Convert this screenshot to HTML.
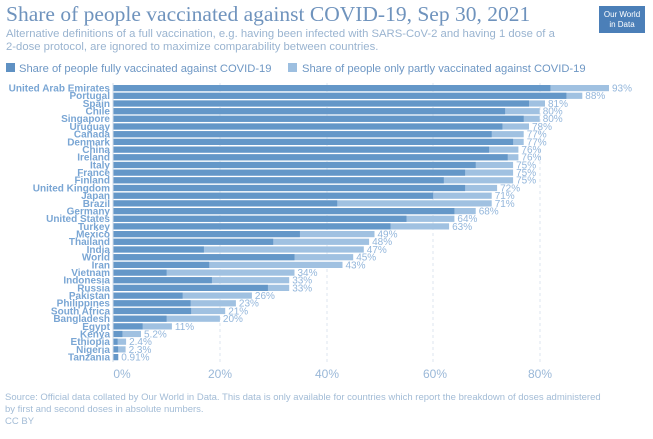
<!DOCTYPE html>
<html><head><meta charset="utf-8"><style>
body{margin:0;background:#fff;width:653px;height:434px;overflow:hidden}
</style></head><body>
<svg width="653" height="434" xmlns="http://www.w3.org/2000/svg" font-family="Liberation Sans, sans-serif">
<text x="6" y="21" font-family="Liberation Serif, serif" font-size="21.5" fill="#6f93bd">Share of people vaccinated against COVID-19, Sep 30, 2021</text>
<text x="6" y="37" font-size="11.3" fill="#9ab4d0">Alternative definitions of a full vaccination, e.g. having been infected with SARS-CoV-2 and having 1 dose of a</text>
<text x="6" y="50" font-size="11.3" fill="#9ab4d0">2-dose protocol, are ignored to maximize comparability between countries.</text>
<rect x="599" y="6" width="46" height="27" fill="#4b7fb8"/>
<text x="622" y="17" font-size="8" fill="#fff" text-anchor="middle">Our World</text>
<text x="622" y="27" font-size="8" fill="#fff" text-anchor="middle">in Data</text>
<rect x="6" y="63" width="9" height="9" fill="#5f91c3"/>
<text x="19" y="72" font-size="11.2" fill="#6e97c4">Share of people fully vaccinated against COVID-19</text>
<rect x="288" y="63" width="9" height="9" fill="#9dbfe0"/>
<text x="302" y="72" font-size="11.2" fill="#6e97c4">Share of people only partly vaccinated against COVID-19</text>
<g stroke="#dde6ef" stroke-dasharray="3,3" stroke-width="1">
<line x1="220" y1="83" x2="220" y2="362"/><line x1="327" y1="83" x2="327" y2="362"/><line x1="433" y1="83" x2="433" y2="362"/><line x1="540" y1="83" x2="540" y2="362"/>
</g>
<g fill="#a0c1e1">
<rect x="113.3" y="85.0" width="495.7" height="6.2"/>
<rect x="113.3" y="92.7" width="469.0" height="6.2"/>
<rect x="113.3" y="100.4" width="431.7" height="6.2"/>
<rect x="113.3" y="108.1" width="426.4" height="6.2"/>
<rect x="113.3" y="115.7" width="426.4" height="6.2"/>
<rect x="113.3" y="123.4" width="415.7" height="6.2"/>
<rect x="113.3" y="131.1" width="410.4" height="6.2"/>
<rect x="113.3" y="138.8" width="410.4" height="6.2"/>
<rect x="113.3" y="146.5" width="405.1" height="6.2"/>
<rect x="113.3" y="154.2" width="405.1" height="6.2"/>
<rect x="113.3" y="161.9" width="399.8" height="6.2"/>
<rect x="113.3" y="169.5" width="399.8" height="6.2"/>
<rect x="113.3" y="177.2" width="399.8" height="6.2"/>
<rect x="113.3" y="184.9" width="383.8" height="6.2"/>
<rect x="113.3" y="192.6" width="378.4" height="6.2"/>
<rect x="113.3" y="200.3" width="378.4" height="6.2"/>
<rect x="113.3" y="208.0" width="362.4" height="6.2"/>
<rect x="113.3" y="215.7" width="341.1" height="6.2"/>
<rect x="113.3" y="223.3" width="335.8" height="6.2"/>
<rect x="113.3" y="231.0" width="261.2" height="6.2"/>
<rect x="113.3" y="238.7" width="255.8" height="6.2"/>
<rect x="113.3" y="246.4" width="250.5" height="6.2"/>
<rect x="113.3" y="254.1" width="239.9" height="6.2"/>
<rect x="113.3" y="261.8" width="229.2" height="6.2"/>
<rect x="113.3" y="269.5" width="181.2" height="6.2"/>
<rect x="113.3" y="277.1" width="175.9" height="6.2"/>
<rect x="113.3" y="284.8" width="175.9" height="6.2"/>
<rect x="113.3" y="292.5" width="138.6" height="6.2"/>
<rect x="113.3" y="300.2" width="122.6" height="6.2"/>
<rect x="113.3" y="307.9" width="111.9" height="6.2"/>
<rect x="113.3" y="315.6" width="106.6" height="6.2"/>
<rect x="113.3" y="323.3" width="58.6" height="6.2"/>
<rect x="113.3" y="330.9" width="27.7" height="6.2"/>
<rect x="113.3" y="338.6" width="12.8" height="6.2"/>
<rect x="113.3" y="346.3" width="12.3" height="6.2"/>
<rect x="113.3" y="354.0" width="4.9" height="6.2"/>
</g>
<g fill="#6497c8">
<rect x="113.3" y="85.0" width="437.1" height="6.2"/>
<rect x="113.3" y="92.7" width="453.1" height="6.2"/>
<rect x="113.3" y="100.4" width="415.7" height="6.2"/>
<rect x="113.3" y="108.1" width="391.8" height="6.2"/>
<rect x="113.3" y="115.7" width="410.4" height="6.2"/>
<rect x="113.3" y="123.4" width="389.1" height="6.2"/>
<rect x="113.3" y="131.1" width="378.4" height="6.2"/>
<rect x="113.3" y="138.8" width="399.8" height="6.2"/>
<rect x="113.3" y="146.5" width="375.8" height="6.2"/>
<rect x="113.3" y="154.2" width="394.4" height="6.2"/>
<rect x="113.3" y="161.9" width="362.4" height="6.2"/>
<rect x="113.3" y="169.5" width="351.8" height="6.2"/>
<rect x="113.3" y="177.2" width="330.5" height="6.2"/>
<rect x="113.3" y="184.9" width="351.8" height="6.2"/>
<rect x="113.3" y="192.6" width="319.8" height="6.2"/>
<rect x="113.3" y="200.3" width="223.9" height="6.2"/>
<rect x="113.3" y="208.0" width="341.1" height="6.2"/>
<rect x="113.3" y="215.7" width="293.2" height="6.2"/>
<rect x="113.3" y="223.3" width="277.2" height="6.2"/>
<rect x="113.3" y="231.0" width="186.6" height="6.2"/>
<rect x="113.3" y="238.7" width="159.9" height="6.2"/>
<rect x="113.3" y="246.4" width="90.6" height="6.2"/>
<rect x="113.3" y="254.1" width="181.2" height="6.2"/>
<rect x="113.3" y="261.8" width="95.9" height="6.2"/>
<rect x="113.3" y="269.5" width="53.3" height="6.2"/>
<rect x="113.3" y="277.1" width="98.6" height="6.2"/>
<rect x="113.3" y="284.8" width="154.6" height="6.2"/>
<rect x="113.3" y="292.5" width="69.3" height="6.2"/>
<rect x="113.3" y="300.2" width="77.3" height="6.2"/>
<rect x="113.3" y="307.9" width="77.8" height="6.2"/>
<rect x="113.3" y="315.6" width="53.3" height="6.2"/>
<rect x="113.3" y="323.3" width="29.3" height="6.2"/>
<rect x="113.3" y="330.9" width="9.1" height="6.2"/>
<rect x="113.3" y="338.6" width="4.3" height="6.2"/>
<rect x="113.3" y="346.3" width="4.8" height="6.2"/>
<rect x="113.3" y="354.0" width="4.9" height="6.2"/>
</g>
<g font-size="10" font-weight="bold" fill="#7aa6d4" text-anchor="end">
<text x="110" y="91.5">United Arab Emirates</text>
<text x="110" y="99.2">Portugal</text>
<text x="110" y="106.9">Spain</text>
<text x="110" y="114.6">Chile</text>
<text x="110" y="122.2">Singapore</text>
<text x="110" y="129.9">Uruguay</text>
<text x="110" y="137.6">Canada</text>
<text x="110" y="145.3">Denmark</text>
<text x="110" y="153.0">China</text>
<text x="110" y="160.7">Ireland</text>
<text x="110" y="168.4">Italy</text>
<text x="110" y="176.0">France</text>
<text x="110" y="183.7">Finland</text>
<text x="110" y="191.4">United Kingdom</text>
<text x="110" y="199.1">Japan</text>
<text x="110" y="206.8">Brazil</text>
<text x="110" y="214.5">Germany</text>
<text x="110" y="222.2">United States</text>
<text x="110" y="229.8">Turkey</text>
<text x="110" y="237.5">Mexico</text>
<text x="110" y="245.2">Thailand</text>
<text x="110" y="252.9">India</text>
<text x="110" y="260.6">World</text>
<text x="110" y="268.3">Iran</text>
<text x="110" y="276.0">Vietnam</text>
<text x="110" y="283.6">Indonesia</text>
<text x="110" y="291.3">Russia</text>
<text x="110" y="299.0">Pakistan</text>
<text x="110" y="306.7">Philippines</text>
<text x="110" y="314.4">South Africa</text>
<text x="110" y="322.1">Bangladesh</text>
<text x="110" y="329.8">Egypt</text>
<text x="110" y="337.4">Kenya</text>
<text x="110" y="345.1">Ethiopia</text>
<text x="110" y="352.8">Nigeria</text>
<text x="110" y="360.5">Tanzania</text>
</g>
<g font-size="10" fill="#93b6db">
<text x="612" y="91.5">93%</text>
<text x="585.3" y="99.2">88%</text>
<text x="548" y="106.9">81%</text>
<text x="542.7" y="114.6">80%</text>
<text x="542.7" y="122.2">80%</text>
<text x="532" y="129.9">78%</text>
<text x="526.7" y="137.6">77%</text>
<text x="526.7" y="145.3">77%</text>
<text x="521.4" y="153.0">76%</text>
<text x="521.4" y="160.7">76%</text>
<text x="516.1" y="168.4">75%</text>
<text x="516.1" y="176.0">75%</text>
<text x="516.1" y="183.7">75%</text>
<text x="500.1" y="191.4">72%</text>
<text x="494.7" y="199.1">71%</text>
<text x="494.7" y="206.8">71%</text>
<text x="478.7" y="214.5">68%</text>
<text x="457.4" y="222.2">64%</text>
<text x="452.1" y="229.8">63%</text>
<text x="377.5" y="237.5">49%</text>
<text x="372.1" y="245.2">48%</text>
<text x="366.8" y="252.9">47%</text>
<text x="356.2" y="260.6">45%</text>
<text x="345.5" y="268.3">43%</text>
<text x="297.5" y="276.0">34%</text>
<text x="292.2" y="283.6">33%</text>
<text x="292.2" y="291.3">33%</text>
<text x="254.9" y="299.0">26%</text>
<text x="238.9" y="306.7">23%</text>
<text x="228.2" y="314.4">21%</text>
<text x="222.9" y="322.1">20%</text>
<text x="174.9" y="329.8">11%</text>
<text x="144" y="337.4">5.2%</text>
<text x="129.1" y="345.1">2.4%</text>
<text x="128.6" y="352.8">2.3%</text>
<text x="121.2" y="360.5">0.91%</text>
</g>
<line x1="113" y1="83" x2="113" y2="362" stroke="#cfdbe8"/>
<g font-size="12" fill="#9ab8d8" text-anchor="middle">
<text x="122" y="378">0%</text><text x="220" y="378">20%</text><text x="327" y="378">40%</text><text x="435" y="378">60%</text><text x="540" y="378">80%</text>
</g>
<g font-size="9.5" fill="#a3bcd6">
<text x="5" y="400">Source: Official data collated by Our World in Data. This data is only available for countries which report the breakdown of doses administered</text>
<text x="5" y="412">by first and second doses in absolute numbers.</text>
<text x="5" y="424">CC BY</text>
</g>
</svg>
</body></html>
